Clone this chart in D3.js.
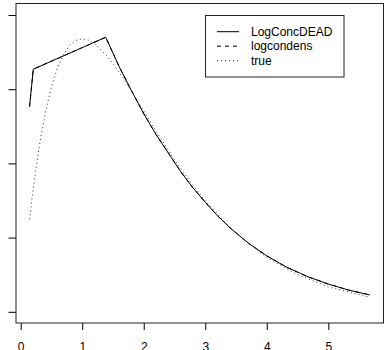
<!DOCTYPE html>
<html>
<head>
<meta charset="utf-8">
<script src="https://cdn.jsdelivr.net/npm/d3@7"></script>
<style>
  html, body { margin: 0; padding: 0; background: #fff; }
  svg { display: block; }
  text { font-family: "Liberation Sans", Arial, Helvetica, sans-serif; }
</style>
</head>
<body>
<svg id="chart" width="385" height="350"></svg>
<script>
// ---- data ----
const xTicks = [0, 1, 2, 3, 4, 5];
const yTicks = [0, 0.1, 0.2, 0.3, 0.4];
const yTickLabels = ["0.0", "0.1", "0.2", "0.3", "0.4"];

const deadX = [0.144, 0.205, 1.382, 1.6, 1.8, 2.0, 2.2, 2.4, 2.6, 2.8, 3.0, 3.2, 3.4, 3.7, 4.0, 4.33, 4.67, 5.0, 5.33, 5.675];
const deadY = [0.2765, 0.327, 0.370, 0.3305, 0.298, 0.267, 0.239, 0.214, 0.189, 0.167, 0.1476, 0.1294, 0.1134, 0.0925, 0.0754, 0.0598, 0.0472, 0.0374, 0.0293, 0.0227];

const condensX = [0.144, 0.205, 1.382, 1.6, 1.8, 2.0, 2.2, 2.4, 2.6, 2.8, 3.0, 3.2, 3.4, 3.7, 4.0, 4.33, 4.67, 5.0, 5.33, 5.675];
const condensY = [0.2765, 0.327, 0.370, 0.3305, 0.298, 0.267, 0.239, 0.214, 0.189, 0.167, 0.1476, 0.1294, 0.1134, 0.0925, 0.0754, 0.0598, 0.0472, 0.0374, 0.0293, 0.0227];

const trueX = [0.144, 0.2, 0.3, 0.4, 0.5, 0.6, 0.7, 0.8, 0.9, 1.0, 1.1, 1.2, 1.4, 1.6, 1.8, 2.0, 2.25, 2.5, 2.75, 3.0, 3.5, 4.0, 4.5, 5.0, 5.675];
const trueY = [0.1247, 0.1637, 0.2222, 0.2681, 0.3033, 0.3293, 0.3476, 0.3595, 0.3659, 0.3679, 0.3662, 0.3614, 0.3452, 0.3230, 0.2975, 0.2707, 0.2371, 0.2052, 0.1758, 0.1494, 0.1057, 0.0733, 0.0500, 0.0337, 0.0195];

const legendLabels = ["LogConcDEAD", "logcondens", "true"];

// ---- drawing ----
const svg = d3.select("#chart");
const box = { left: 16, top: 3.5, right: 383.5, bottom: 323 };

const x = d3.scaleLinear().domain([0, 5]).range([20.7, 328.3]);
const y = d3.scaleLinear().domain([0, 0.4]).range([311.8, 15]);

const line = d3.line().x(d => x(d[0])).y(d => y(d[1]));

const series = [
  { xs: deadX, ys: deadY, dash: null, color: "#000" },
  { xs: condensX, ys: condensY, dash: "4,4", color: "#000" },
  { xs: trueX, ys: trueY, dash: "1,3", color: "#333" }
];

// curves
series.forEach(s => {
  svg.append("path")
    .datum(s.xs.map((v, i) => [v, s.ys[i]]))
    .attr("d", line)
    .attr("fill", "none")
    .attr("stroke", s.color)
    .attr("stroke-width", 1)
    .attr("stroke-dasharray", s.dash);
});

// x axis
const xAxis = svg.append("g")
  .attr("transform", `translate(0,${box.bottom})`)
  .call(d3.axisBottom(x).tickValues(xTicks).tickSize(7).tickPadding(12).tickFormat(d3.format("d")));
xAxis.select(".domain").remove();
xAxis.selectAll("line").attr("stroke", "#000");
xAxis.selectAll("text").attr("font-size", 12).attr("fill", "#000")
  .style("font-family", "'Liberation Sans', Arial, sans-serif");

// y axis (labels rotated, parallel to the axis as in R; they fall outside the window)
const yAxis = svg.append("g")
  .attr("transform", `translate(${box.left},0)`)
  .call(d3.axisLeft(y).tickValues(yTicks).tickSize(7.5).tickPadding(6)
    .tickFormat((d, i) => yTickLabels[i]));
yAxis.select(".domain").remove();
yAxis.selectAll("line").attr("stroke", "#000");
yAxis.selectAll("text")
  .attr("font-size", 12).attr("fill", "#000")
  .attr("text-anchor", "middle")
  .attr("dy", null)
  .attr("x", null)
  .attr("transform", "translate(-18,0) rotate(-90)")
  .style("font-family", "'Liberation Sans', Arial, sans-serif");

// plot box
svg.append("rect")
  .attr("x", box.left).attr("y", box.top)
  .attr("width", box.right - box.left).attr("height", box.bottom - box.top)
  .attr("fill", "none").attr("stroke", "#222").attr("stroke-width", 1);

// legend
const lg = svg.append("g");
lg.append("rect")
  .attr("x", 205.5).attr("y", 15.5).attr("width", 138.5).attr("height", 61.5)
  .attr("fill", "#fff").attr("stroke", "#222").attr("stroke-width", 1);
legendLabels.forEach((lab, i) => {
  const cy = 31.7 + i * 14.5;
  lg.append("line")
    .attr("x1", 217).attr("x2", 239).attr("y1", cy).attr("y2", cy)
    .attr("stroke", series[i].color).attr("stroke-width", 1)
    .attr("stroke-dasharray", series[i].dash);
  lg.append("text")
    .attr("x", 251).attr("y", cy + 4.2)
    .attr("font-size", 12).attr("fill", "#000")
    .text(lab);
});
</script>
</body>
</html>
